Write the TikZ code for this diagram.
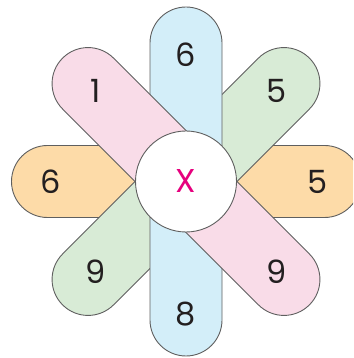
\documentclass[tikz,border=0pt]{standalone}
\usepackage{fontspec}
\setmainfont{Poppins}
\usepackage{xcolor}
\usepackage{tikz}
\usetikzlibrary{positioning}
\usetikzlibrary{calc}

\definecolor{bandblue}{HTML}{D3EEF9}
\definecolor{bandpink}{HTML}{F9DCE8}
\definecolor{bandgreen}{HTML}{D8EBD6}
\definecolor{bandorange}{HTML}{FDDBA8}
\definecolor{edgegray}{HTML}{5F5F5F}
\definecolor{digitgray}{HTML}{231F20}
\definecolor{hubpink}{HTML}{E6007E}

\tikzset{
	band/.style={draw=edgegray, line width=0.9pt, rounded corners=36pt, minimum width=349pt, minimum height=72pt, inner sep=0pt},
	digit/.style={font=\fontsize{32}{34}\selectfont, text=digitgray, inner sep=0pt},
}

\begin{document}
\begin{tikzpicture}[x=1pt, y=1pt]
			\useasboundingbox (0,0) rectangle (353,358);
			\clip (0,0) rectangle (353,358);
			\coordinate (c) at (186,176.5);

			% Bands, back to front
			\node[band, fill=bandorange] (orange) at (c) {};
			\node[band, fill=bandgreen, rotate=45] (green) at (c) {};
			\node[band, fill=bandblue, rotate=90] (blue) at (c) {};
			\node[band, fill=bandpink, rotate=-45] (pink) at (c) {};

			% Centre
			\node[circle, draw=edgegray, line width=0.9pt, fill=white, minimum size=101pt, inner sep=0pt] (hub) at (c) {};
			\node[font=\fontsize{33}{35}\selectfont, text=hubpink, inner sep=0pt] (mult) at (hub) {X};

			% Numbers on the bands
			\foreach \ang/\rad/\txt/\id in {90/127/6/1, 270/133/8/2, 180/135/6/3, 0/132/5/4, 135/128/1/5, -45/128/9/6, 45/128/5/7, 225/128/9/8}
				\node[digit] (num\id) at ($(c)+(\ang:\rad)$) {\txt};
		\end{tikzpicture}
\end{document}
